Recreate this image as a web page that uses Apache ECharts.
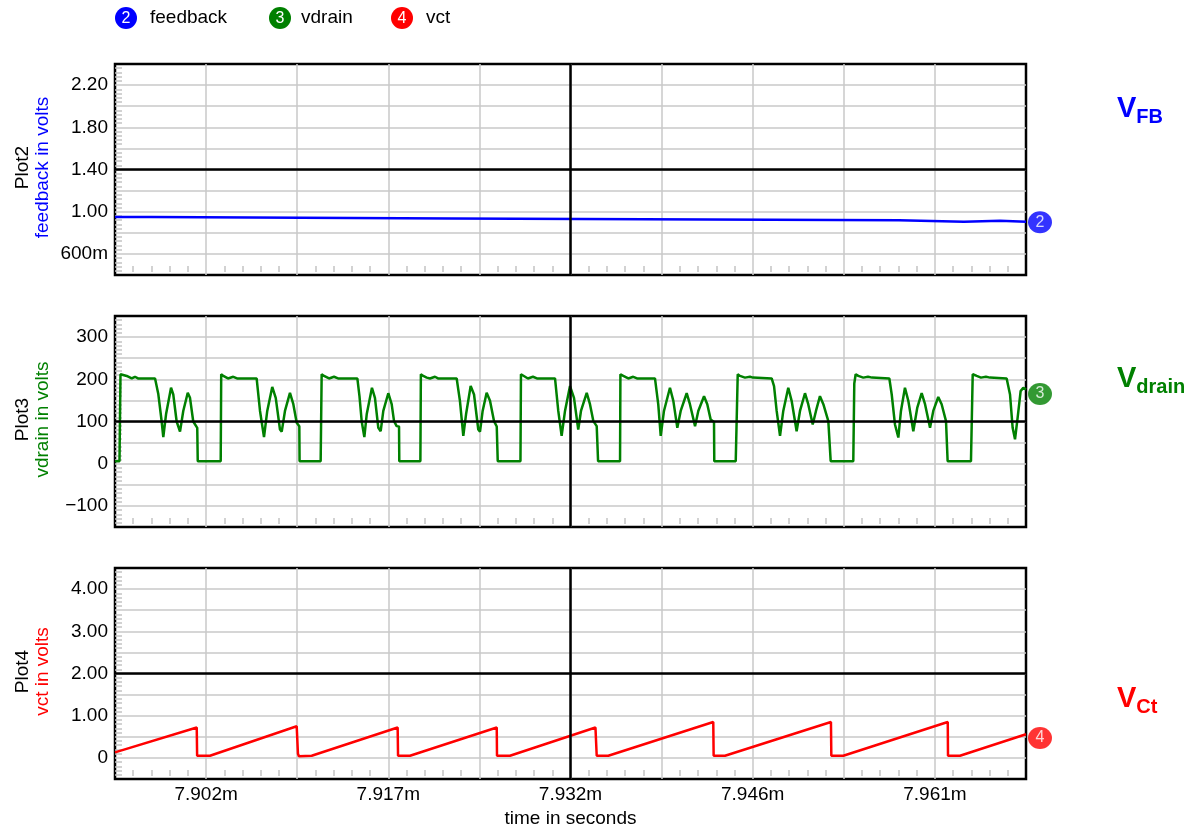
<!DOCTYPE html>
<html><head><meta charset="utf-8">
<script src="https://cdn.jsdelivr.net/npm/echarts@6/dist/echarts.min.js"></script>
<style>html,body{margin:0;padding:0;background:#fff}#c{width:1196px;height:829px}</style>
</head><body><div id="c"></div>
<script>
// time axis: microseconds after 7.8951 ms
const timeTickValues = [7.3, 21.9, 36.5, 51.1, 65.7];
const timeTickLabels = ['7.902m', '7.917m', '7.932m', '7.946m', '7.961m'];

const fbTickValues = [0.6, 1.0, 1.4, 1.8, 2.2];
const fbTickLabels = ['600m', '1.00', '1.40', '1.80', '2.20'];
const drTickValues = [-100, 0, 100, 200, 300];
const drTickLabels = ['\u2212100', '0', '100', '200', '300'];
const ctTickValues = [0, 1, 2, 3, 4];
const ctTickLabels = ['0', '1.00', '2.00', '3.00', '4.00'];

// feedback (V)
const fbTime = [0, 2.88, 2.96, 27.00, 27.16, 62.82, 62.98, 68.03, 68.19, 70.92, 71.08, 73.00];
const fbVolt = [0.95, 0.95, 0.935, 0.935, 0.92, 0.92, 0.905, 0.905, 0.915, 0.915, 0.905, 0.905];

// vdrain (V)
const drTime = [
  0.00, 0.36, 0.44, 0.56, 0.94, 1.34, 1.60, 1.84, 3.21, 3.47, 3.74, 3.87, 4.09, 4.49, 4.67, 4.94, 5.21, 5.47, 5.83, 6.01, 6.27, 6.59, 6.63, 8.47,
  8.51, 8.68, 9.05, 9.48, 9.78, 11.35, 11.62, 11.94, 12.20, 12.60, 12.88, 13.22, 13.36, 13.62, 14.02, 14.29, 14.56, 14.77, 14.79, 16.48,
  16.56, 16.75, 17.15, 17.55, 17.87, 19.42, 19.59, 19.77, 19.98, 20.17, 20.59, 20.83, 21.10, 21.29, 21.50, 21.90, 22.17, 22.36, 22.57, 22.76, 22.78, 24.47,
  24.51, 24.70, 24.98, 25.24, 25.64, 25.88, 27.38, 27.64, 27.91, 28.13, 28.50, 28.77, 29.11, 29.25, 29.46, 29.78, 30.05, 30.37, 30.59, 30.64, 30.67, 32.49,
  32.53, 32.69, 33.09, 33.49, 33.81, 35.26, 35.52, 35.79, 36.06, 36.46, 36.78, 37.12, 37.34, 37.80, 38.06, 38.33, 38.60, 38.69, 38.71, 40.47,
  40.50, 40.73, 41.13, 41.53, 41.83, 43.27, 43.53, 43.73, 43.99, 44.47, 44.74, 45.06, 45.33, 45.81, 46.07, 46.48, 46.74, 47.20, 47.46, 47.73, 48.00, 48.02, 49.74,
  49.90, 50.08, 50.48, 50.88, 51.12, 52.62, 52.81, 53.02, 53.29, 53.55, 53.95, 54.22, 54.62, 54.89, 55.29, 55.55, 55.91, 56.17, 56.49, 56.76, 57.16, 57.29, 57.35, 59.16,
  59.24, 59.35, 59.56, 59.96, 60.34, 60.66, 62.05, 62.24, 62.50, 62.77, 62.98, 63.30, 63.57, 63.97, 64.29, 64.64, 64.91, 65.31, 65.57, 65.97, 66.24, 66.59, 66.69, 66.72, 68.59,
  68.73, 69.05, 69.39, 69.79, 70.11, 71.45, 71.72, 71.93, 72.12, 72.33, 72.57, 72.78, 73.00
];
const drVolt = [
  6, 6, 212, 210, 208, 202, 206, 202, 202, 165, 100, 63, 117, 180, 164, 100, 76, 125, 168, 156, 100, 85, 6, 6,
  212, 208, 202, 206, 202, 202, 125, 63, 125, 182, 156, 81, 76, 125, 168, 141, 97, 89, 6, 6,
  212, 208, 202, 206, 202, 202, 160, 100, 63, 117, 180, 156, 85, 77, 125, 167, 141, 101, 89, 88, 6, 6,
  212, 208, 204, 202, 206, 202, 202, 149, 66, 117, 184, 164, 81, 76, 125, 168, 149, 101, 88, 87, 6, 6,
  212, 208, 202, 206, 202, 202, 125, 66, 125, 184, 156, 81, 125, 168, 141, 101, 89, 88, 6, 6,
  212, 208, 202, 206, 202, 202, 141, 66, 125, 180, 149, 85, 125, 167, 141, 89, 125, 160, 141, 105, 99, 6, 6,
  212, 208, 204, 206, 204, 202, 184, 125, 66, 125, 180, 149, 77, 125, 167, 141, 93, 125, 160, 141, 101, 97, 6, 6,
  190, 212, 208, 204, 206, 204, 202, 164, 93, 62, 125, 180, 149, 77, 133, 167, 141, 85, 125, 158, 141, 101, 97, 6, 6,
  212, 208, 204, 206, 204, 202, 164, 85, 58, 109, 172, 180, 176
];

// vct (V)
const ctTime = [0, 6.55, 6.58, 7.61, 14.56, 14.66, 14.74, 15.76, 22.65, 22.68, 23.64, 30.59, 30.61, 31.65, 38.50, 38.60, 39.53, 47.94, 47.97, 48.88, 57.37, 57.40, 58.36, 66.73, 66.75, 67.71, 73.00];
const ctVolt = [0.13, 0.72, 0.05, 0.05, 0.75, 0.10, 0.04, 0.05, 0.72, 0.05, 0.05, 0.72, 0.05, 0.05, 0.72, 0.05, 0.05, 0.85, 0.05, 0.05, 0.85, 0.05, 0.05, 0.85, 0.05, 0.05, 0.56];

// trace end markers
const markerNames = ['2', '3', '4'];
const markerValues = [0.90, 165, 0.47];
const traceNames = ['feedback', 'vdrain', 'vct'];
const plotNames = ['Plot2', 'Plot3', 'Plot4'];
const axisNames = ['feedback in volts', 'vdrain in volts', 'vct in volts'];
const sideLabels = [['V', 'FB'], ['V', 'drain'], ['V', 'Ct']];

const colors = ['#0000ff', '#008000', '#ff0000'];
const FONT = "'Liberation Sans', Arial, Helvetica, sans-serif";

function zip(a, b) { return a.map((t, i) => [t, b[i]]); }
function fmt(vals, labels) {
  return function (v) {
    for (let i = 0; i < vals.length; i++) {
      if (Math.abs(v - vals[i]) < 1e-6 * Math.max(1, Math.abs(vals[i]))) return labels[i];
    }
    return '';
  };
}

const X_MIN = 0, X_MAX = 73, X_INT = 7.3;
const yRanges = [[0.4, 2.4, 0.2], [-150, 350, 50], [-0.5, 4.5, 0.5]];
const yFmts = [fmt(fbTickValues, fbTickLabels), fmt(drTickValues, drTickLabels), fmt(ctTickValues, ctTickLabels)];
const tops = [64, 316, 568];
const H = 211;
const TICKC = '#c4c4c4';

const grids = tops.map(t => ({ left: 115, top: t, width: 911, height: H, show: true, borderColor: '#000', borderWidth: 2.5, backgroundColor: 'transparent' }));

const xAxes = [];
tops.forEach((t, i) => {
  xAxes.push({
    type: 'value', gridIndex: i, min: X_MIN, max: X_MAX, interval: X_INT,
    axisLine: { show: false }, axisTick: { show: false, inside: true },
    minorTick: { show: false },
    splitLine: { show: true, showMinLine: false, showMaxLine: false, lineStyle: { color: '#c8c8c8', width: 1.5 } },
    axisLabel: { show: i === 2, formatter: fmt(timeTickValues, timeTickLabels), color: '#000', fontSize: 19, fontFamily: FONT, margin: 6 },
    name: i === 2 ? 'time in seconds' : '', nameLocation: 'middle', nameGap: 30,
    nameTextStyle: { color: '#000', fontSize: 19, fontFamily: FONT }
  });
});
// inner minor-tick rows, lifted a little above the bottom frame
tops.forEach((t, i) => {
  xAxes.push({
    type: 'value', gridIndex: i, min: X_MIN, max: X_MAX, interval: X_INT, position: 'bottom', offset: -3,
    axisLine: { show: false }, axisTick: { show: false, inside: true }, axisLabel: { show: false }, splitLine: { show: false },
    minorTick: { show: true, splitNumber: 5, length: 6, lineStyle: { color: TICKC, width: 1.5 } }
  });
});

const yAxes = yRanges.map((r, i) => ({
  type: 'value', gridIndex: i, min: r[0], max: r[1], interval: r[2],
  axisLine: { show: false }, axisTick: { show: false, inside: true },
  minorTick: { show: true, splitNumber: 5, length: 7, lineStyle: { color: TICKC, width: 1.5 } },
  splitLine: { show: true, showMinLine: false, showMaxLine: false, lineStyle: { color: '#c8c8c8', width: 1.5 } },
  axisLabel: { formatter: yFmts[i], color: '#000', fontSize: 19, fontFamily: FONT, margin: 7 }
}));

const datas = [zip(fbTime, fbVolt), zip(drTime, drVolt), zip(ctTime, ctVolt)];

const series = [];
datas.forEach((d, i) => {
  series.push({
    type: 'line', name: traceNames[i], xAxisIndex: i, yAxisIndex: i, data: d,
    showSymbol: false, symbol: 'none', animation: false, z: 3,
    lineStyle: { color: colors[i], width: 2.5 }, itemStyle: { color: colors[i] },
    markLine: {
      silent: true, symbol: 'none', animation: false, label: { show: false },
      lineStyle: { color: '#000', width: 2.5, type: 'solid' },
      data: [{ yAxis: (yRanges[i][0] + yRanges[i][1]) / 2 }, { xAxis: (X_MIN + X_MAX) / 2 }]
    }
  });
  series.push({
    type: 'scatter', xAxisIndex: i, yAxisIndex: i, data: [[X_MAX, markerValues[i]]],
    symbol: 'circle', symbolSize: [24, 22], symbolOffset: [14, 0], clip: false, z: 10, animation: false,
    itemStyle: { color: colors[i] },
    label: { show: true, position: 'inside', formatter: markerNames[i], color: '#fff', fontSize: 16, fontFamily: FONT }
  });
});

const graphic = [];
const legendCircleX = [126, 280, 402];
const legendTextX = [150, 301, 426];
legendCircleX.forEach((x, i) => {
  graphic.push({ type: 'circle', shape: { cx: x, cy: 18, r: 11 }, style: { fill: colors[i] } });
  graphic.push({ type: 'text', x: x, y: 19, style: { text: markerNames[i], fill: '#fff', font: '16px ' + FONT, align: 'center', verticalAlign: 'middle' } });
  graphic.push({ type: 'text', x: legendTextX[i], y: 18, style: { text: traceNames[i], fill: '#000', font: '19px ' + FONT, align: 'left', verticalAlign: 'middle' } });
});
tops.forEach((t, i) => {
  graphic.push({
    type: 'text', x: 33, y: t + H / 2 - 2, rotation: Math.PI / 2,
    style: {
      text: '{a|' + plotNames[i] + '}\n{b|' + axisNames[i] + '}', align: 'center', verticalAlign: 'middle',
      rich: { a: { fill: '#000', fontSize: 19, fontFamily: FONT, lineHeight: 20 }, b: { fill: colors[i], fontSize: 19, fontFamily: FONT, lineHeight: 20 } }
    }
  });
});
const sideY = [111, 381, 701];
sideLabels.forEach((s, i) => {
  graphic.push({
    type: 'text', x: 1117, y: sideY[i],
    style: {
      text: '{v|' + s[0] + '}{s|' + s[1] + '}', align: 'left', verticalAlign: 'middle',
      rich: {
        v: { fill: colors[i], fontSize: 29, fontWeight: 'bold', fontFamily: FONT, lineHeight: 33, verticalAlign: 'top' },
        s: { fill: colors[i], fontSize: 20, fontWeight: 'bold', fontFamily: FONT, lineHeight: 20, verticalAlign: 'bottom' }
      }
    }
  });
});

const chart = echarts.init(document.getElementById('c'), null, { renderer: 'canvas' });
chart.setOption({
  animation: false, backgroundColor: '#fff',
  grid: grids, xAxis: xAxes, yAxis: yAxes, series: series, graphic: graphic
});
</script></body></html>
